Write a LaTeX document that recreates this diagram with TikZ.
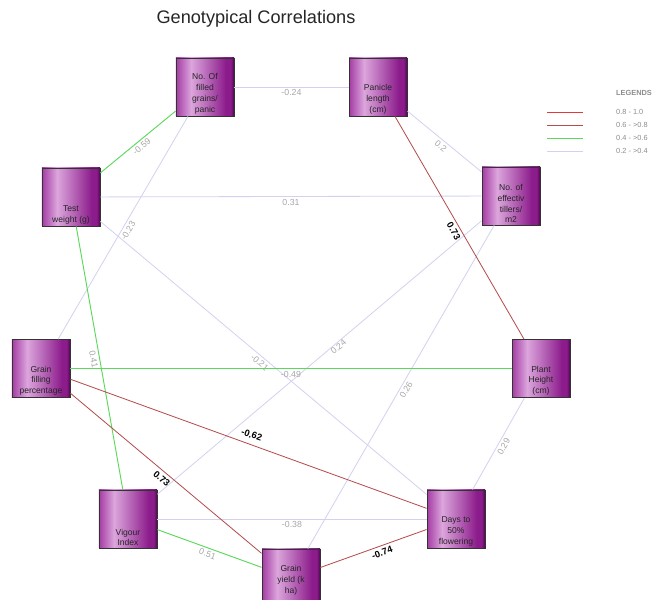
\documentclass[tikz,border=0pt]{standalone}
\usepackage{fontspec}
\setmainfont{Liberation Sans}

\definecolor{bxA}{HTML}{A43CA4}
\definecolor{bxB}{HTML}{DCA6DC}
\definecolor{bxC}{HTML}{8C1C8C}
\definecolor{bxD}{HTML}{4E084E}
\definecolor{lnA}{HTML}{E03A3A}
\definecolor{lnB}{HTML}{B44C4C}
\definecolor{lnC}{HTML}{5CD85C}
\definecolor{lnD}{HTML}{D2D2F0}

\pgfdeclarehorizontalshading{boxshade}{100bp}{color(0bp)=(bxA); color(25bp)=(bxA); color(38bp)=(bxB); color(68bp)=(bxC); color(72bp)=(bxC); color(75bp)=(bxD); color(100bp)=(bxD)}

\newcommand{\trlabel}[2][0pt]{\parbox[c][1.62cm][b]{1.64cm}{\centering #2\par\vspace{#1}}}

\tikzset{
    trait/.style={draw=black!80, line width=0.7pt, shade, shading=boxshade, minimum width=1.74cm, minimum height=1.74cm, inner sep=0pt, font=\fontsize{7.3}{9.3}\selectfont, text=black!85},
    corA/.style={lnA, line width=0.7pt},
    corB/.style={lnB, line width=0.7pt},
    corC/.style={lnC, line width=0.8pt},
    corD/.style={lnD, line width=0.7pt},
    val/.style={midway, sloped, font=\fontsize{7.5}{8}\selectfont, text=black!35, inner sep=2pt},
    bigval/.style={midway, sloped, font=\fontsize{8}{9}\selectfont\bfseries, text=black, inner sep=2.5pt},
    legtxt/.style={font=\fontsize{6.3}{7}\selectfont, text=black!45, inner sep=0pt}
}

\begin{document}
\begin{tikzpicture}[x=0.03cm, y=-0.03cm]
    \useasboundingbox (0,0) rectangle (661,600);

    % Title
    \node[font=\fontsize{15.5}{18}\selectfont, text=black!85] (title) at (256,19) {Genotypical Correlations};

    % Traits
    \node[trait] (filled)  at (205,87)  {\trlabel{No. Of\\ filled\\ grains/\\ panic}};
    \node[trait] (panicle) at (378,87)  {\trlabel{Panicle\\ length\\ (cm)}};
    \node[trait] (tillers) at (511,196) {\trlabel{No. of\\ effectiv\\ tillers/\\ m2}};
    \node[trait] (test)    at (71,197)  {\trlabel{Test\\ weight (g)}};
    \node[trait] (gfill)   at (41,368.6)  {\trlabel{Grain\\ filling\\ percentage}};
    \node[trait] (plant)   at (541,368.6) {\trlabel{Plant\\ Height\\ (cm)}};
    \node[trait] (vigour)  at (128,519) {\trlabel{Vigour\\ Index}};
    \node[trait] (yield)   at (291,578) {\trlabel[0.3cm]{Grain\\ yield (k\\ ha)}};
    \node[trait] (days)    at (456,519) {\trlabel{Days to\\ 50\%\\ flowering}};

    % Correlations 0.2 - 0.4
    \draw[corD] (filled) -- node[val, below] {-0.24} (panicle);
    \draw[corD] (gfill) -- node[val, below] {-0.23} (filled);
    \draw[corD] (panicle) -- node[val, below] {0.2} (tillers);
    \draw[corD] (test) -- node[val, below] {0.31} (tillers);
    \draw[corD] (test) -- node[val, below] {-0.21} (days);
    \draw[corD] (vigour) -- node[val, below, inner sep=0.5pt, pos=0.55] {0.24} (tillers);
    \draw[corD] (yield) -- node[val, below] {0.26} (tillers);
    \draw[corD] (plant) -- node[val, below] {0.29} (days);
    \draw[corD] (vigour) -- node[val, below] {-0.38} (days);

    % Correlations 0.4 - 0.6
    \draw[corC] (test) -- node[val, below] {-0.59} (filled);
    \draw[corC] (test) -- node[val, below] {0.41} (vigour);
    \draw[corC] (gfill) -- node[val, below] {-0.49} (plant);
    \draw[corC] (vigour) -- node[val, below] {0.51} (yield);

    % Correlations 0.6 - 0.8
    \draw[corB] (panicle) -- node[bigval, below] {0.73} (plant);
    \draw[corB] (gfill) -- node[bigval, above, inner sep=5pt] {-0.62} (days);
    \draw[corB] (gfill) -- node[bigval, below] {0.73} (yield);
    \draw[corB] (yield) -- node[bigval, below, pos=0.56] {-0.74} (days);

    % Legend
    \node[legtxt, anchor=west, font=\fontsize{6.3}{7}\selectfont\bfseries] (legend) at (616,93) {LEGENDS};
    \foreach \st/\txt [count=\i] in {corA/0.8 - 1.0, corB/0.6 - >0.8, corC/0.4 - >0.6, corD/0.2 - >0.4} {
        \draw[\st] (547,{99+13*\i}) -- (583,{99+13*\i});
        \node[legtxt, anchor=west] (leg\i) at (616,{99+13*\i}) {\txt};
    }
\end{tikzpicture}
\end{document}
